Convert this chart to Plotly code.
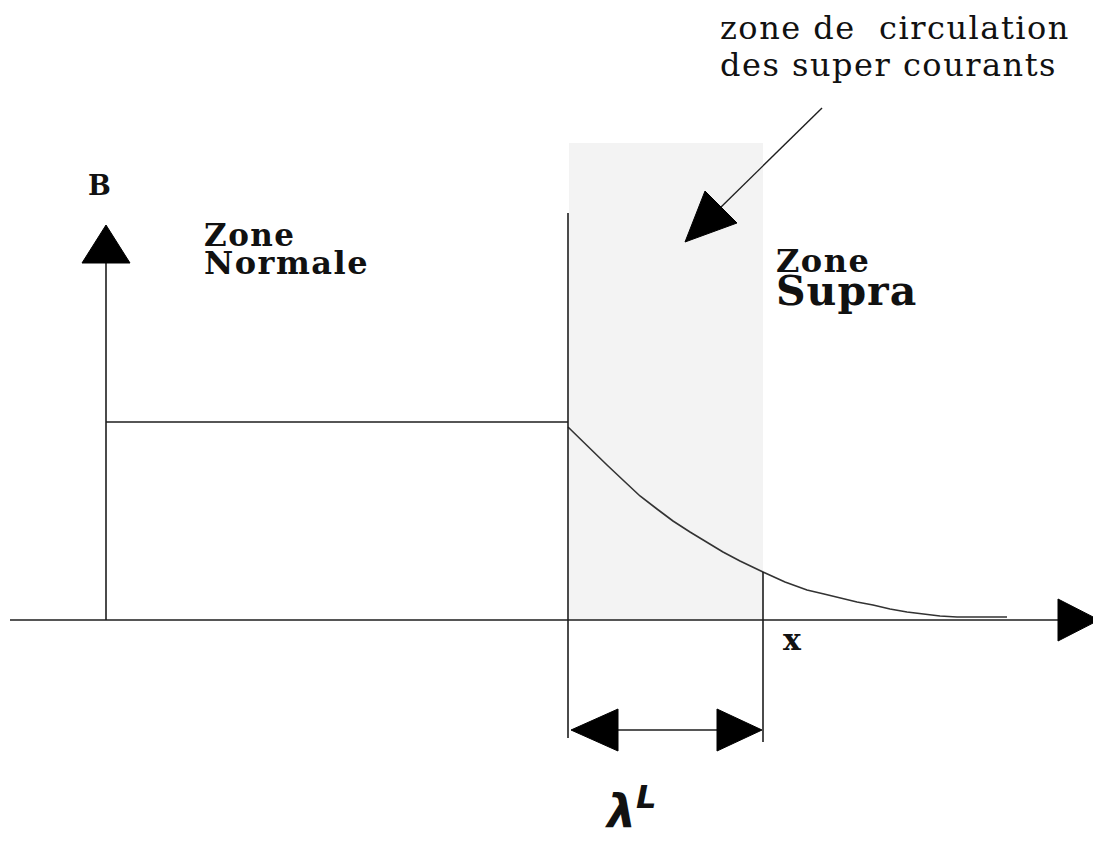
import plotly.graph_objects as go

# ---- diagram data (x in diagram units, B upward from the x axis) ----
curve_x = [568, 573, 590, 607, 624, 640, 657, 673, 690, 707, 723, 740, 752, 763,
           785, 807, 824, 840, 857, 873, 890, 907, 924, 940, 957, 973, 990, 1007]
curve_B = [193, 188, 171, 155, 139, 124, 111, 99, 88, 78, 68, 59, 53, 48,
           38, 30, 26, 22, 18, 15, 11, 8, 6, 4, 3, 3, 3, 3]
plateau_B = 198
axis_x0 = 106
interface_x = 568
lambda_end_x = 763
shade_top_B = 477

labels_top = ["zone de  circulation", "des super courants"]
label_normal = ["Zone", "Normale"]
label_supra = ["Zone", "Supra"]

INK = "#1e1e1e"
fig = go.Figure()

# shaded super-current zone
fig.add_shape(type="rect", x0=interface_x + 1, x1=lambda_end_x, y0=0, y1=shade_top_B,
              fillcolor="#f3f3f3", line_width=0, layer="below")

def seg(x0, y0, x1, y1, w=1.6):
    fig.add_shape(type="line", x0=x0, y0=y0, x1=x1, y1=y1,
                  line=dict(color=INK, width=w))

def tri(pts):
    path = "M " + " L ".join(f"{x},{y}" for x, y in pts) + " Z"
    fig.add_shape(type="path", path=path, fillcolor="black",
                  line=dict(color="black", width=1))

# axes
seg(10, 0, 1060, 0)
tri([(1058, 21), (1058, -21), (1099, 0)])
seg(axis_x0, 0, axis_x0, 358)
tri([(82, 357), (130, 357), (106, 395)])

# plateau and interface lines
seg(axis_x0, plateau_B, interface_x, plateau_B)
seg(interface_x, 407, interface_x, -118)
seg(lambda_end_x, 48, lambda_end_x, -122)

# lambda double arrow
seg(616, -110, 720, -110)
tri([(571, -110), (618, -89), (618, -131)])
tri([(762, -110), (717, -89), (717, -131)])

# pointer arrow to the zone
seg(822, 512, 718, 410, w=1.4)
tri([(685, 378), (705, 429), (737, 397)])

# decay curve
fig.add_trace(go.Scatter(x=curve_x, y=curve_B, mode="lines",
                         line=dict(color="#333333", width=1.6),
                         hoverinfo="skip", showlegend=False))

def txt(x, y, s, size, bold=False, spacing=0, family="DejaVu Serif"):
    t = f"<b>{s}</b>" if bold else s
    if spacing:
        t = f"<span style='letter-spacing:{spacing}px'>{t}</span>"
    fig.add_annotation(x=x, y=y, text=t, showarrow=False, xanchor="left",
                       yanchor="middle", font=dict(family=family, size=size, color="#111111"))

txt(718, 592, labels_top[0], 32, spacing=1.5)
txt(718, 555, labels_top[1], 32, spacing=1.5)
txt(202, 385, label_normal[0], 31, True, spacing=1.5)
txt(202, 357, label_normal[1], 32, True, spacing=1.5)
txt(774, 359, label_supra[0], 32, True, spacing=1.5)
txt(774, 329, label_supra[1], 41, True, spacing=1)
txt(86, 435, "B", 27, True)
txt(781, -19, "x", 30, True)
fig.add_annotation(x=630, y=-188, text="<b><i>λ<sup>L</sup></i></b>", showarrow=False,
                   xanchor="center", yanchor="middle",
                   font=dict(family="DejaVu Sans", size=46, color="#111111"))

# the page body adds an 8px offset; ranges compensate so units map to page pixels
fig.update_layout(width=1101, height=854, margin=dict(l=0, r=0, t=0, b=0),
                  plot_bgcolor="white", paper_bgcolor="white", showlegend=False)
fig.update_xaxes(range=[8, 1109], visible=False, fixedrange=True)
fig.update_yaxes(range=[-242, 612], visible=False, fixedrange=True)
fig.write_html("out.html")
